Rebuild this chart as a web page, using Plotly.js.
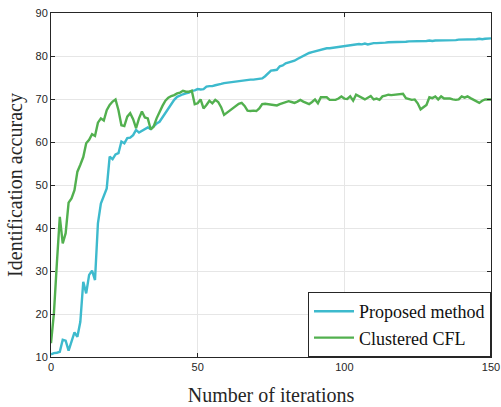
<!DOCTYPE html>
<html>
<head>
<meta charset="utf-8">
<script src="https://cdn.plot.ly/plotly-3.0.1.min.js"></script>
<style>html,body{margin:0;padding:0;background:#fff;}#chart{width:501px;height:407px;}</style>
</head>
<body>
<div id="chart"></div>
<script>
const iterations = Array.from({length: 151}, (_, i) => i);

const proposedMethod = [
  10.6, 10.9, 11.0, 11.2, 14.0, 13.8, 11.5, 13.6, 15.7, 14.7,
  18.2, 27.5, 24.8, 29.1, 30.1, 27.9, 41.1, 45.7, 47.7, 49.2,
  56.6, 56.0, 57.1, 57.4, 60.1, 59.7, 60.9, 61.0, 61.6, 62.8,
  62.2, 62.6, 63.2, 63.4, 63.0, 63.7, 64.3, 64.7, 65.7, 66.7,
  68.0, 69.0, 69.8, 70.5, 70.9, 71.1, 71.3, 71.5, 71.9, 72.0,
  72.3, 72.2, 72.3, 72.9, 73.0, 73.0, 73.2, 73.3, 73.5, 73.7,
  73.8, 73.8, 73.9, 74.0, 74.1, 74.2, 74.3, 74.4, 74.5, 74.5,
  74.6, 74.6, 74.8, 75.3, 76.0, 76.6, 76.7, 76.8, 77.6, 77.8,
  78.3, 78.5, 78.7, 78.9, 79.3, 79.7, 80.1, 80.5, 80.7, 80.9,
  81.1, 81.2, 81.4, 81.6, 81.8, 81.8, 81.9, 82.1, 82.2, 82.3,
  82.4, 82.5, 82.5, 82.6, 82.7, 82.8, 82.7, 82.9, 82.7, 82.9,
  83.0, 83.0, 83.0, 83.1, 83.1, 83.2, 83.2, 83.2, 83.3, 83.2,
  83.3, 83.3, 83.4, 83.4, 83.4, 83.5, 83.5, 83.5, 83.5, 83.6,
  83.5, 83.6, 83.6, 83.6, 83.7, 83.7, 83.6, 83.7, 83.7, 83.8,
  83.8, 83.8, 83.8, 83.9, 83.9, 83.9, 84.0, 83.9, 84.0, 84.1, 84.1
];

const clusteredCFL = [
  13.2, 20.2, 31.8, 42.6, 36.4, 38.8, 45.9, 46.9, 48.8, 53.1,
  54.7, 56.5, 59.7, 60.5, 61.8, 61.4, 64.5, 65.5, 65.0, 67.4,
  68.6, 69.4, 69.9, 67.4, 63.9, 63.7, 65.9, 66.7, 65.3, 63.2,
  65.5, 67.1, 65.7, 65.5, 62.9, 63.6, 65.5, 67.1, 68.4, 69.6,
  70.3, 70.7, 70.9, 71.3, 71.5, 71.9, 71.7, 71.7, 71.9, 68.8,
  69.0, 69.9, 67.8, 68.6, 69.6, 69.0, 69.8, 69.3, 68.1, 66.3,
  66.8, 67.4, 67.8, 68.4, 68.9, 69.1, 68.4, 67.3, 67.2, 67.3,
  67.2, 67.8, 68.8, 68.9, 68.8, 68.7, 68.6, 68.5, 68.8, 69.0,
  69.2, 69.5, 69.3, 69.1, 69.4, 69.8, 69.4, 69.0, 68.8, 69.3,
  69.9, 69.0, 70.4, 70.4, 70.4, 69.8, 69.8, 69.8, 70.1, 70.6,
  70.1, 70.0, 70.6, 69.6, 71.0, 70.6, 70.4, 69.9, 70.3, 70.7,
  69.9, 70.1, 69.8, 70.6, 70.8, 71.0, 70.9, 71.0, 71.1, 71.2,
  71.2, 70.2, 70.0, 69.8, 69.9, 69.0, 67.6, 68.2, 68.6, 70.4,
  70.2, 70.6, 69.9, 70.6, 70.1, 70.1, 70.1, 69.9, 69.8, 69.9,
  70.6, 70.3, 70.6, 70.2, 69.8, 69.5, 69.1, 69.6, 69.9, 69.9, 69.9
];

const seriesNames = ["Proposed method", "Clustered CFL"];
const xTicks = [0, 50, 100, 150];
const yTicks = [10, 20, 30, 40, 50, 60, 70, 80, 90];

const traces = [
  {x: iterations, y: proposedMethod, name: seriesNames[0], mode: "lines",
   line: {color: "#3dbacd", width: 2.4}},
  {x: iterations, y: clusteredCFL, name: seriesNames[1], mode: "lines",
   line: {color: "#52b04f", width: 2.4}}
];

const serif = "Liberation Serif, Times New Roman, serif";

const axisCommon = {
  showline: true, mirror: "ticks", linecolor: "#262626", linewidth: 1,
  ticks: "inside", ticklen: 4, tickcolor: "#262626",
  showgrid: true, gridcolor: "#e6e6e6", gridwidth: 1, zeroline: false,
  tickfont: {family: "Liberation Sans, Arial, sans-serif", size: 11, color: "#262626"}
};

const layout = {
  width: 501, height: 407,
  margin: {l: 51, r: 10, t: 13, b: 50},
  paper_bgcolor: "#ffffff", plot_bgcolor: "#ffffff",
  showlegend: true,
  xaxis: Object.assign({}, axisCommon, {
    range: [0, 150], tickvals: xTicks, ticktext: xTicks.map(String),
    title: {text: "Number of iterations", standoff: 15,
            font: {family: serif, size: 20, color: "#262626"}}
  }),
  yaxis: Object.assign({}, axisCommon, {
    range: [10, 90], tickvals: yTicks, ticktext: yTicks.map(String),
    title: {text: "Identification accuracy", standoff: 7,
            font: {family: serif, size: 20, color: "#262626"}}
  }),
  legend: {
    x: 1, y: 0, xanchor: "right", yanchor: "bottom",
    bgcolor: "#ffffff", bordercolor: "#262626", borderwidth: 1,
    font: {family: serif, size: 18, color: "#111"},
    itemwidth: 40, tracegroupgap: 0
  }
};

Plotly.newPlot("chart", traces, layout, {displayModeBar: false, staticPlot: true});
</script>
</body>
</html>
